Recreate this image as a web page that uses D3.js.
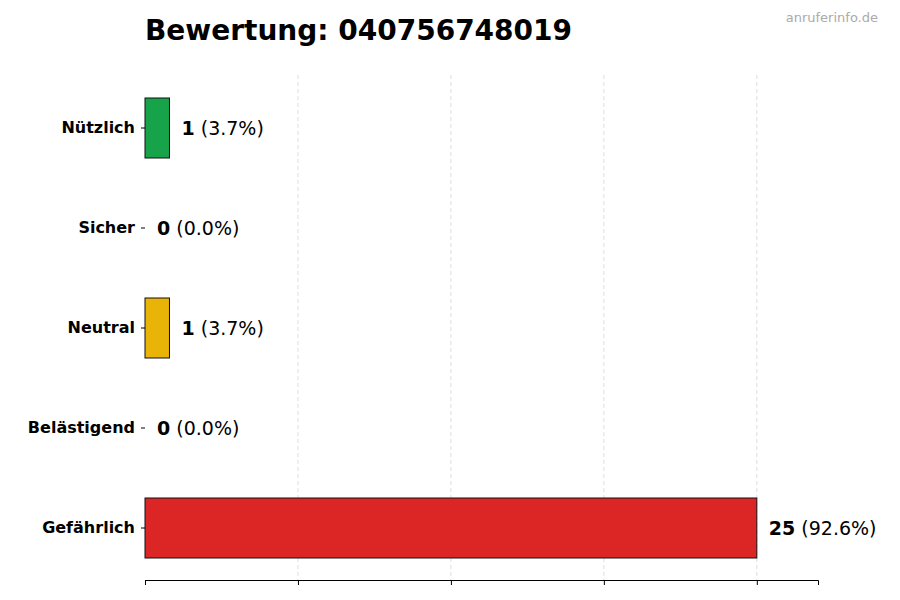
<!DOCTYPE html>
<html><head><meta charset="utf-8">
<script src="https://cdn.jsdelivr.net/npm/d3@7"></script>
<style>body{margin:0;background:#fff;font-family:"DejaVu Sans",sans-serif;}</style>
</head><body><div id="chart"></div>
<script>
var categories = ["Nützlich", "Sicher", "Neutral", "Belästigend", "Gefährlich"];
var counts = [1, 0, 1, 0, 25];
var percents = ["3.7%", "0.0%", "3.7%", "0.0%", "92.6%"];
var colors = ["#16a34a", "#9ca3af", "#eab308", "#f97316", "#dc2626"];
var xTicks = [0, 6.25, 12.5, 18.75, 25];

var W = 900, H = 600;
var svg = d3.select("#chart").append("svg").attr("width", W).attr("height", H);

var x = d3.scaleLinear().domain([0, 27.5]).range([145, 818]);
var y = d3.scaleBand().domain(categories).range([78, 578]).paddingInner(0.4).paddingOuter(0.2);

// grid
svg.selectAll(".grid").data(xTicks.slice(1)).enter().append("line")
  .attr("x1", d => x(d)).attr("x2", d => x(d))
  .attr("y1", 75).attr("y2", 580)
  .attr("stroke", "#d4d4d4").attr("stroke-dasharray", "4,3").attr("stroke-width", 0.8);

// bars
svg.selectAll(".bar").data(categories).enter().append("rect")
  .attr("x", x(0)).attr("y", d => y(d))
  .attr("width", (d, i) => x(counts[i]) - x(0))
  .attr("height", y.bandwidth())
  .attr("fill", (d, i) => colors[i])
  .attr("stroke", "#111").attr("stroke-width", 1);

// bottom axis
var xAxis = svg.append("g").attr("transform", "translate(0,580)")
  .call(d3.axisBottom(x).tickValues(xTicks).tickFormat("").tickSize(5));
xAxis.select(".domain").attr("stroke", "#000");

// left axis
var yAxis = svg.append("g").attr("transform", "translate(145,0)")
  .call(d3.axisLeft(y).tickSize(4).tickPadding(6));
yAxis.select(".domain").remove();
yAxis.selectAll("text").attr("font-size", 16).attr("font-weight", "bold")
  .attr("font-family", "DejaVu Sans").attr("fill", "#000");

// value labels
var lab = svg.selectAll(".lab").data(categories).enter().append("text")
  .attr("x", (d, i) => x(counts[i]) + 12)
  .attr("y", d => y(d) + y.bandwidth() / 2)
  .attr("dy", "0.35em").attr("font-size", 19).attr("fill", "#000");
lab.append("tspan").attr("font-weight", "bold").text((d, i) => counts[i]);
lab.append("tspan").text((d, i) => " (" + percents[i] + ")");

// title
svg.append("text").attr("x", 145).attr("y", 40)
  .attr("font-size", 28).attr("font-weight", "bold").text("Bewertung: 040756748019");
svg.append("text").attr("x", 878).attr("y", 22).attr("text-anchor", "end")
  .attr("font-size", 13).attr("fill", "#aaa").text("anruferinfo.de");
</script></body></html>
